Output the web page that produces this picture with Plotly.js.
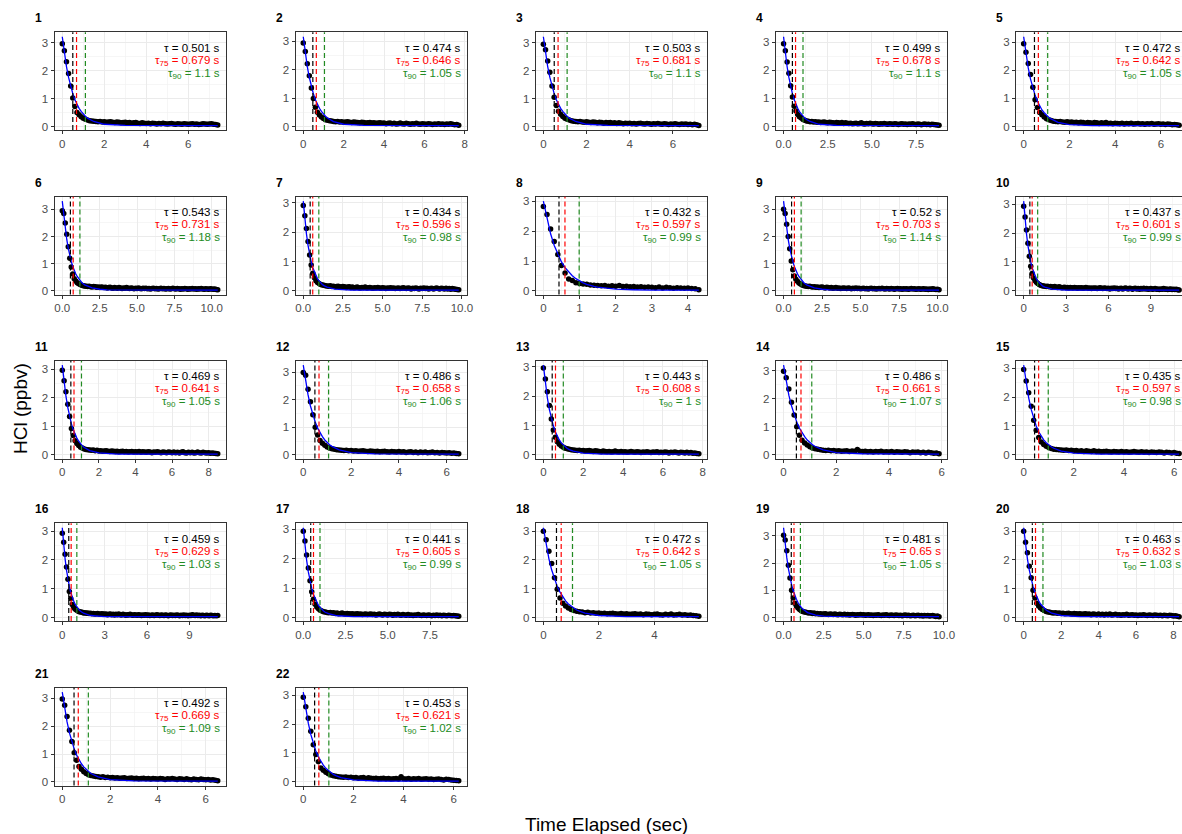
<!DOCTYPE html>
<html><head><meta charset="utf-8">
<script src="https://cdn.plot.ly/plotly-3.0.1.min.js"></script>
<style>html,body{margin:0;padding:0;overflow:hidden;background:#fff}</style>
</head><body><div id="chart" style="width:1190px;height:834px"></div>
<script>
// ---------------- DATA ----------------
const sampleStep = 0.1; // seconds between samples
const panelIds = [1,2,3,4,5,6,7,8,9,10,11,12,13,14,15,16,17,18,19,20,21,22];

const hcl1 = [2.97,2.72,2.32,1.90,1.45,1.02,0.72,0.50,0.42,0.35, 0.30,0.26,0.23,0.21,0.20,0.19,0.18,0.17,0.18,0.16, 0.17,0.15,0.16,0.17,0.15,0.14,0.16,0.15,0.13,0.14, 0.15,0.13,0.14,0.12,0.13,0.14,0.12,0.11,0.13,0.12, 0.11,0.12,0.10,0.12,0.11,0.09,0.11,0.10,0.12,0.10, 0.09,0.10,0.11,0.09,0.08,0.10,0.09,0.08,0.10,0.09, 0.08,0.09,0.10,0.08,0.09,0.07,0.08,0.10,0.09,0.08, 0.09,0.10,0.08,0.07,0.05];
const hcl2 = [2.93,2.63,2.20,1.78,1.35,0.98,0.68,0.50,0.40,0.33, 0.28,0.24,0.22,0.20,0.19,0.18,0.17,0.18,0.16,0.17, 0.15,0.16,0.17,0.15,0.14,0.16,0.15,0.14,0.13,0.15, 0.14,0.12,0.13,0.14,0.12,0.13,0.11,0.12,0.13,0.11, 0.12,0.10,0.11,0.12,0.10,0.11,0.09,0.10,0.12,0.10, 0.09,0.11,0.10,0.08,0.10,0.09,0.11,0.09,0.08,0.10, 0.09,0.08,0.10,0.09,0.07,0.09,0.08,0.10,0.08,0.09, 0.07,0.09,0.08,0.10,0.08,0.06,0.07,0.04];
const hcl3 = [2.95,2.75,2.35,1.95,1.45,1.05,0.75,0.55,0.44,0.36, 0.30,0.26,0.23,0.21,0.19,0.18,0.17,0.18,0.16,0.15, 0.17,0.15,0.14,0.16,0.15,0.13,0.15,0.14,0.12,0.14, 0.13,0.14,0.12,0.13,0.11,0.13,0.12,0.10,0.12,0.11, 0.12,0.10,0.11,0.09,0.11,0.12,0.10,0.09,0.11,0.10, 0.08,0.10,0.09,0.11,0.09,0.08,0.10,0.09,0.07,0.09, 0.08,0.10,0.08,0.07,0.09,0.08,0.09,0.07,0.08,0.06, 0.08,0.06,0.04];
const hcl4 = [2.95,2.70,2.30,1.90,1.45,1.05,0.72,0.55,0.43,0.35, 0.30,0.25,0.22,0.20,0.19,0.17,0.18,0.16,0.17,0.15, 0.16,0.14,0.15,0.16,0.14,0.13,0.15,0.14,0.13,0.12, 0.14,0.13,0.12,0.14,0.11,0.13,0.12,0.11,0.12,0.10, 0.11,0.12,0.10,0.11,0.13,0.10,0.09,0.11,0.10,0.12, 0.10,0.09,0.11,0.10,0.08,0.10,0.09,0.11,0.09,0.08, 0.10,0.09,0.08,0.10,0.09,0.07,0.09,0.10,0.08,0.09, 0.07,0.09,0.08,0.10,0.08,0.07,0.09,0.08,0.06,0.08, 0.09,0.07,0.08,0.06,0.08,0.07,0.06,0.05,0.04];
const hcl5 = [2.95,2.65,2.25,1.85,1.40,0.95,0.68,0.50,0.42,0.34, 0.28,0.24,0.21,0.19,0.18,0.17,0.18,0.16,0.15,0.17, 0.15,0.16,0.14,0.15,0.13,0.15,0.14,0.12,0.14,0.13, 0.12,0.14,0.13,0.11,0.13,0.12,0.14,0.11,0.12,0.10, 0.12,0.11,0.10,0.12,0.09,0.11,0.10,0.12,0.09,0.10, 0.11,0.09,0.10,0.08,0.10,0.09,0.11,0.08,0.09,0.10, 0.08,0.09,0.07,0.09,0.08,0.06,0.07,0.06,0.04];
const hcl6 = [2.95,2.85,2.50,2.08,1.62,1.20,0.88,0.62,0.45,0.36, 0.30,0.26,0.23,0.21,0.19,0.18,0.17,0.16,0.17,0.15, 0.14,0.16,0.15,0.13,0.14,0.12,0.14,0.13,0.12,0.13, 0.11,0.12,0.13,0.11,0.10,0.12,0.11,0.10,0.12,0.11, 0.09,0.11,0.10,0.12,0.10,0.09,0.11,0.10,0.08,0.10, 0.09,0.11,0.09,0.08,0.10,0.09,0.10,0.08,0.09,0.07, 0.09,0.10,0.08,0.09,0.07,0.08,0.10,0.08,0.09,0.07, 0.08,0.09,0.07,0.08,0.10,0.08,0.07,0.09,0.08,0.06, 0.08,0.07,0.09,0.08,0.06,0.08,0.07,0.09,0.07,0.08, 0.06,0.08,0.07,0.09,0.07,0.06,0.08,0.07,0.06,0.08, 0.07,0.06,0.07,0.05,0.04];
const hcl7 = [2.90,2.55,2.12,1.68,1.22,0.88,0.60,0.45,0.35,0.29, 0.25,0.22,0.20,0.19,0.18,0.17,0.16,0.18,0.15,0.16, 0.14,0.15,0.16,0.14,0.13,0.15,0.14,0.12,0.13,0.14, 0.12,0.13,0.11,0.12,0.13,0.11,0.10,0.12,0.11,0.13, 0.10,0.11,0.12,0.10,0.09,0.11,0.10,0.12,0.10,0.09, 0.11,0.10,0.08,0.10,0.09,0.11,0.09,0.10,0.08,0.09, 0.10,0.08,0.09,0.11,0.09,0.08,0.10,0.09,0.07,0.09, 0.08,0.10,0.08,0.07,0.09,0.08,0.10,0.08,0.09,0.07, 0.08,0.09,0.07,0.08,0.10,0.08,0.07,0.09,0.08,0.07, 0.09,0.07,0.08,0.06,0.08,0.07,0.06,0.05,0.04];
const hcl8 = [2.82,2.55,2.07,1.65,1.22,0.85,0.60,0.40,0.35,0.27, 0.25,0.23,0.22,0.20,0.19,0.18,0.17,0.18,0.16,0.17, 0.16,0.18,0.15,0.16,0.14,0.15,0.13,0.14,0.12,0.13, 0.12,0.11,0.13,0.10,0.12,0.11,0.09,0.11,0.10,0.09, 0.10,0.08,0.07,0.04];
const hcl9 = [3.00,2.85,2.45,2.00,1.55,1.10,0.78,0.55,0.43,0.35, 0.29,0.25,0.22,0.20,0.18,0.17,0.16,0.17,0.15,0.14, 0.15,0.13,0.14,0.12,0.13,0.14,0.12,0.11,0.13,0.12, 0.11,0.12,0.10,0.11,0.12,0.10,0.11,0.09,0.10,0.11, 0.10,0.09,0.11,0.10,0.08,0.10,0.09,0.11,0.09,0.10, 0.08,0.09,0.10,0.08,0.09,0.07,0.09,0.10,0.08,0.09, 0.07,0.08,0.09,0.08,0.10,0.08,0.07,0.09,0.08,0.07, 0.09,0.08,0.06,0.08,0.09,0.07,0.08,0.06,0.08,0.07, 0.08,0.06,0.07,0.09,0.07,0.08,0.06,0.07,0.08,0.06, 0.07,0.08,0.06,0.07,0.05,0.07,0.06,0.08,0.06,0.05, 0.06,0.04];
const hcl10 = [2.92,2.55,2.10,1.65,1.20,0.85,0.60,0.45,0.36,0.30, 0.26,0.22,0.20,0.18,0.17,0.16,0.15,0.16,0.14,0.15, 0.13,0.14,0.15,0.13,0.12,0.14,0.13,0.11,0.12,0.13, 0.11,0.12,0.10,0.12,0.11,0.10,0.12,0.11,0.09,0.11, 0.10,0.11,0.09,0.10,0.12,0.10,0.09,0.10,0.08,0.10, 0.09,0.10,0.08,0.09,0.11,0.09,0.08,0.10,0.09,0.08, 0.09,0.07,0.09,0.08,0.10,0.08,0.09,0.07,0.08,0.09, 0.07,0.08,0.10,0.08,0.07,0.09,0.08,0.06,0.08,0.09, 0.07,0.08,0.06,0.08,0.07,0.09,0.07,0.08,0.06,0.07, 0.08,0.06,0.07,0.08,0.06,0.07,0.05,0.07,0.06,0.08, 0.06,0.07,0.05,0.06,0.07,0.05,0.06,0.05,0.06,0.04, 0.03];
const hcl11 = [2.97,2.60,2.22,1.78,1.35,0.93,0.68,0.50,0.40,0.33, 0.27,0.24,0.21,0.19,0.18,0.17,0.16,0.17,0.15,0.16, 0.14,0.15,0.13,0.14,0.15,0.13,0.12,0.14,0.13,0.12, 0.13,0.11,0.12,0.13,0.11,0.12,0.10,0.11,0.12,0.10, 0.11,0.10,0.12,0.09,0.11,0.10,0.09,0.11,0.10,0.08, 0.10,0.09,0.11,0.09,0.08,0.10,0.09,0.08,0.10,0.09, 0.08,0.10,0.08,0.09,0.07,0.09,0.11,0.08,0.07,0.09, 0.08,0.09,0.07,0.08,0.10,0.08,0.07,0.09,0.08,0.07, 0.08,0.06,0.07,0.06,0.05,0.04];
const hcl12 = [2.98,2.88,2.38,1.92,1.45,1.00,0.72,0.52,0.42,0.35, 0.29,0.25,0.22,0.20,0.19,0.18,0.17,0.16,0.17,0.15, 0.16,0.14,0.15,0.13,0.14,0.15,0.13,0.12,0.14,0.13, 0.12,0.13,0.11,0.12,0.13,0.11,0.10,0.12,0.11,0.10, 0.12,0.10,0.11,0.09,0.10,0.11,0.09,0.10,0.08,0.10, 0.09,0.10,0.08,0.09,0.10,0.08,0.09,0.07,0.09,0.08, 0.07,0.08,0.06,0.07,0.05,0.04];
const hcl13 = [2.95,2.58,2.15,1.68,1.22,0.85,0.60,0.45,0.36,0.30, 0.26,0.23,0.21,0.19,0.18,0.17,0.16,0.15,0.16,0.14, 0.15,0.13,0.14,0.15,0.13,0.12,0.14,0.13,0.12,0.11, 0.13,0.12,0.11,0.12,0.10,0.11,0.13,0.11,0.10,0.12, 0.10,0.11,0.09,0.10,0.12,0.10,0.09,0.11,0.10,0.08, 0.10,0.09,0.11,0.09,0.08,0.10,0.09,0.11,0.08,0.09, 0.08,0.10,0.09,0.07,0.09,0.08,0.10,0.08,0.07,0.09, 0.08,0.07,0.09,0.07,0.08,0.06,0.07,0.05,0.04];
const hcl14 = [2.98,2.75,2.35,1.88,1.42,1.00,0.70,0.52,0.42,0.35, 0.29,0.25,0.22,0.20,0.18,0.17,0.16,0.17,0.15,0.16, 0.14,0.15,0.13,0.14,0.15,0.12,0.14,0.13,0.19,0.13, 0.12,0.13,0.11,0.12,0.10,0.12,0.11,0.13,0.10,0.11, 0.10,0.12,0.09,0.11,0.10,0.09,0.11,0.10,0.08,0.10, 0.09,0.10,0.08,0.09,0.07,0.09,0.08,0.06,0.07,0.04];
const hcl15 = [2.95,2.55,2.15,1.68,1.20,0.85,0.60,0.45,0.36,0.30, 0.26,0.22,0.20,0.19,0.18,0.17,0.16,0.17,0.15,0.16, 0.14,0.15,0.13,0.14,0.12,0.14,0.13,0.12,0.14,0.12, 0.13,0.11,0.12,0.13,0.11,0.10,0.12,0.11,0.10,0.12, 0.10,0.11,0.09,0.10,0.12,0.10,0.09,0.11,0.09,0.10, 0.08,0.10,0.09,0.08,0.10,0.09,0.07,0.09,0.08,0.07, 0.08,0.06,0.05];
const hcl16 = [2.93,2.62,2.20,1.76,1.33,0.90,0.66,0.45,0.36,0.30, 0.26,0.23,0.20,0.19,0.18,0.16,0.17,0.15,0.16,0.14, 0.15,0.13,0.14,0.12,0.13,0.14,0.12,0.11,0.13,0.12, 0.11,0.12,0.10,0.11,0.12,0.10,0.11,0.09,0.11,0.10, 0.12,0.10,0.09,0.11,0.10,0.08,0.10,0.09,0.11,0.09, 0.08,0.10,0.09,0.08,0.10,0.09,0.07,0.09,0.08,0.10, 0.08,0.09,0.07,0.08,0.09,0.07,0.08,0.10,0.08,0.07, 0.09,0.08,0.07,0.09,0.08,0.06,0.08,0.09,0.07,0.08, 0.07,0.09,0.08,0.06,0.08,0.07,0.09,0.07,0.08,0.06, 0.08,0.07,0.10,0.08,0.07,0.09,0.07,0.08,0.06,0.08, 0.07,0.06,0.08,0.07,0.06,0.08,0.07,0.06,0.07,0.06, 0.07];
const hcl17 = [2.93,2.60,2.12,1.68,1.25,0.88,0.62,0.45,0.36,0.30, 0.25,0.22,0.20,0.19,0.17,0.16,0.17,0.15,0.16,0.14, 0.15,0.13,0.14,0.15,0.13,0.12,0.14,0.13,0.12,0.13, 0.11,0.12,0.13,0.11,0.12,0.10,0.11,0.12,0.10,0.11, 0.12,0.10,0.11,0.09,0.10,0.12,0.10,0.09,0.11,0.10, 0.09,0.11,0.10,0.08,0.10,0.09,0.11,0.09,0.08,0.10, 0.09,0.08,0.10,0.08,0.09,0.07,0.09,0.08,0.10,0.08, 0.07,0.09,0.08,0.07,0.09,0.08,0.06,0.08,0.07,0.09, 0.07,0.08,0.06,0.08,0.07,0.06,0.08,0.07,0.06,0.07, 0.06,0.05,0.04];
const hcl18 = [3.00,2.70,2.30,1.88,1.38,0.98,0.68,0.50,0.40,0.33, 0.28,0.24,0.22,0.20,0.19,0.17,0.18,0.16,0.17,0.15, 0.16,0.14,0.15,0.13,0.14,0.15,0.13,0.12,0.14,0.12, 0.13,0.11,0.12,0.13,0.11,0.12,0.10,0.12,0.11,0.10, 0.11,0.12,0.10,0.09,0.11,0.10,0.12,0.09,0.10,0.11, 0.09,0.10,0.08,0.09,0.07,0.06,0.04];
const hcl19 = [3.02,2.85,2.45,1.92,1.45,1.00,0.72,0.52,0.42,0.35, 0.29,0.25,0.22,0.20,0.19,0.17,0.16,0.17,0.15,0.16, 0.14,0.15,0.13,0.14,0.12,0.13,0.14,0.12,0.11,0.13, 0.12,0.11,0.13,0.11,0.10,0.12,0.11,0.10,0.12,0.10, 0.11,0.09,0.10,0.11,0.10,0.08,0.10,0.09,0.11,0.09, 0.10,0.08,0.09,0.10,0.08,0.09,0.07,0.09,0.08,0.10, 0.08,0.07,0.09,0.08,0.10,0.08,0.07,0.09,0.08,0.07, 0.09,0.08,0.07,0.08,0.06,0.08,0.09,0.07,0.08,0.06, 0.07,0.08,0.06,0.07,0.08,0.06,0.07,0.05,0.07,0.06, 0.07,0.05,0.06,0.07,0.05,0.04,0.05,0.03];
const hcl20 = [3.00,2.62,2.25,1.78,1.38,0.95,0.68,0.50,0.40,0.33, 0.28,0.24,0.21,0.19,0.18,0.17,0.16,0.17,0.15,0.16, 0.14,0.15,0.13,0.14,0.15,0.13,0.12,0.14,0.13,0.12, 0.13,0.11,0.12,0.13,0.11,0.12,0.10,0.12,0.11,0.10, 0.12,0.10,0.11,0.09,0.11,0.10,0.12,0.09,0.10,0.11, 0.09,0.10,0.08,0.10,0.09,0.11,0.08,0.09,0.10,0.08, 0.09,0.07,0.09,0.08,0.10,0.08,0.07,0.09,0.08,0.07, 0.09,0.08,0.07,0.08,0.06,0.08,0.07,0.06,0.08,0.07, 0.05,0.06,0.04,0.03];
const hcl21 = [2.97,2.75,2.35,1.85,1.45,1.05,0.78,0.55,0.45,0.36, 0.30,0.26,0.23,0.21,0.19,0.18,0.17,0.18,0.16,0.17, 0.15,0.16,0.14,0.15,0.13,0.14,0.15,0.12,0.13,0.14, 0.12,0.13,0.11,0.12,0.13,0.11,0.12,0.10,0.12,0.11, 0.10,0.12,0.11,0.09,0.11,0.10,0.12,0.10,0.09,0.11, 0.10,0.09,0.11,0.09,0.08,0.10,0.09,0.08,0.10,0.09, 0.08,0.09,0.07,0.08,0.06,0.04];
const hcl22 = [2.92,2.60,2.20,1.75,1.28,0.95,0.70,0.48,0.40,0.33, 0.28,0.24,0.21,0.20,0.18,0.17,0.16,0.17,0.15,0.16, 0.14,0.15,0.13,0.14,0.15,0.12,0.14,0.13,0.12,0.13, 0.11,0.12,0.13,0.11,0.12,0.10,0.11,0.12,0.10,0.18, 0.11,0.10,0.12,0.09,0.11,0.10,0.12,0.09,0.10,0.11, 0.09,0.10,0.08,0.09,0.10,0.08,0.07,0.09,0.08,0.07, 0.06,0.05,0.04];

// exponential fit curves, read at these times (plus the panel's last sample time)
const fitTimes = [0,0.1,0.2,0.3,0.4,0.5,0.6,0.7,0.8,0.9,1.0,1.1,1.2,1.3,1.4,1.5,2.0,2.5,3.0];
const fit1  = [3.22,2.63,2.15,1.76,1.44,1.18,0.96,0.79,0.65,0.54,0.44,0.37,0.30,0.25,0.21,0.18,0.08,0.05,0.04,0.03];
const fit2  = [3.15,2.57,2.10,1.72,1.41,1.15,0.94,0.78,0.64,0.53,0.43,0.36,0.30,0.25,0.21,0.17,0.08,0.05,0.04,0.03];
const fit3  = [3.22,2.63,2.15,1.76,1.44,1.18,0.96,0.79,0.65,0.54,0.44,0.37,0.30,0.25,0.21,0.18,0.08,0.05,0.04,0.03];
const fit4  = [3.20,2.61,2.13,1.75,1.43,1.17,0.96,0.79,0.65,0.53,0.44,0.36,0.30,0.25,0.21,0.18,0.08,0.05,0.04,0.03];
const fit5  = [3.20,2.59,2.09,1.69,1.37,1.11,0.90,0.73,0.59,0.49,0.40,0.32,0.27,0.22,0.19,0.15,0.07,0.04,0.03,0.03];
const fit6  = [3.30,2.74,2.27,1.89,1.57,1.30,1.08,0.90,0.75,0.63,0.53,0.44,0.37,0.31,0.26,0.22,0.11,0.06,0.04,0.03];
const fit7  = [3.05,2.43,1.94,1.55,1.23,0.99,0.79,0.64,0.51,0.41,0.34,0.27,0.22,0.18,0.15,0.13,0.06,0.04,0.03,0.03];
const fit8  = [3.00,2.39,1.91,1.52,1.22,0.97,0.78,0.63,0.51,0.41,0.33,0.27,0.22,0.18,0.15,0.13,0.06,0.04,0.03,0.03];
const fit9  = [3.30,2.74,2.27,1.89,1.57,1.30,1.08,0.90,0.75,0.63,0.53,0.44,0.37,0.31,0.26,0.22,0.11,0.06,0.04,0.03];
const fit10 = [3.10,2.47,1.97,1.57,1.25,1.00,0.80,0.65,0.52,0.42,0.34,0.28,0.23,0.19,0.15,0.13,0.06,0.04,0.03,0.03];
const fit11 = [3.15,2.54,2.06,1.67,1.35,1.09,0.88,0.72,0.59,0.48,0.39,0.32,0.26,0.22,0.18,0.15,0.07,0.04,0.03,0.03];
const fit12 = [3.25,2.65,2.17,1.77,1.45,1.19,0.97,0.80,0.66,0.54,0.45,0.37,0.31,0.26,0.21,0.18,0.08,0.05,0.04,0.03];
const fit13 = [3.05,2.43,1.94,1.55,1.23,0.99,0.79,0.64,0.51,0.41,0.34,0.27,0.22,0.18,0.15,0.13,0.06,0.04,0.03,0.03];
const fit14 = [3.20,2.61,2.13,1.75,1.43,1.17,0.96,0.79,0.65,0.53,0.44,0.36,0.30,0.25,0.21,0.18,0.08,0.05,0.04,0.03];
const fit15 = [3.10,2.47,1.97,1.57,1.25,1.00,0.80,0.65,0.52,0.42,0.34,0.28,0.23,0.19,0.15,0.13,0.06,0.04,0.03,0.03];
const fit16 = [3.12,2.52,2.04,1.65,1.33,1.08,0.88,0.71,0.58,0.47,0.39,0.32,0.26,0.22,0.18,0.15,0.07,0.04,0.03,0.03];
const fit17 = [3.05,2.43,1.94,1.55,1.23,0.99,0.79,0.64,0.51,0.41,0.34,0.27,0.22,0.18,0.15,0.13,0.06,0.04,0.03,0.03];
const fit18 = [3.12,2.52,2.04,1.65,1.33,1.08,0.88,0.71,0.58,0.47,0.39,0.32,0.26,0.22,0.18,0.15,0.07,0.04,0.03,0.03];
const fit19 = [3.30,2.70,2.20,1.80,1.47,1.21,0.99,0.81,0.67,0.55,0.45,0.37,0.31,0.26,0.22,0.18,0.09,0.05,0.04,0.03];
const fit20 = [3.12,2.52,2.04,1.65,1.33,1.08,0.88,0.71,0.58,0.47,0.39,0.32,0.26,0.22,0.18,0.15,0.07,0.04,0.03,0.03];
const fit21 = [3.22,2.63,2.15,1.76,1.44,1.18,0.96,0.79,0.65,0.54,0.44,0.37,0.30,0.25,0.21,0.18,0.08,0.05,0.04,0.03];
const fit22 = [3.10,2.50,2.03,1.64,1.33,1.07,0.87,0.71,0.58,0.47,0.39,0.32,0.26,0.22,0.18,0.15,0.07,0.04,0.03,0.03];

const tau   = [0.501,0.474,0.503,0.499,0.472,0.543,0.434,0.432,0.52,0.437,0.469,0.486,0.443,0.486,0.435,0.459,0.441,0.472,0.481,0.463,0.492,0.453];
const tau75 = [0.679,0.646,0.681,0.678,0.642,0.731,0.596,0.597,0.703,0.601,0.641,0.658,0.608,0.661,0.597,0.629,0.605,0.642,0.65,0.632,0.669,0.621];
const tau90 = [1.1,1.05,1.1,1.1,1.05,1.18,0.98,0.99,1.14,0.99,1.05,1.06,1,1.07,0.98,1.03,0.99,1.05,1.05,1.03,1.09,1.02];

const xTickStep = [2,2,2,2.5,2,2.5,2.5,1,2.5,3,2,2,2,2,2,3,2.5,2,2.5,2,2,2];

const hclSeries = [hcl1,hcl2,hcl3,hcl4,hcl5,hcl6,hcl7,hcl8,hcl9,hcl10,hcl11,hcl12,hcl13,hcl14,hcl15,hcl16,hcl17,hcl18,hcl19,hcl20,hcl21,hcl22];
const fitSeries = [fit1,fit2,fit3,fit4,fit5,fit6,fit7,fit8,fit9,fit10,fit11,fit12,fit13,fit14,fit15,fit16,fit17,fit18,fit19,fit20,fit21,fit22];

// ---------------- LAYOUT ----------------
const W = 1190, H = 834;
const colLeft = [54.5, 295.5, 535.6, 775.8, 1015.9];
const colW = 171;
const rowTop = [32.3, 196.7, 360.7, 523.3, 687.7];
const rowH = 97.8;
const FONT = 'Liberation Sans, Arial, Helvetica, sans-serif';
const GREEN = '#228B22';

const traces = [];
const shapes = [];
const annotations = [];
const layout = {
  width: W, height: H,
  margin: {l: 0, r: 0, t: 0, b: 0},
  paper_bgcolor: '#ffffff', plot_bgcolor: '#ffffff',
  showlegend: false,
  font: {family: FONT, size: 11, color: '#4D4D4D'},
  shapes: shapes, annotations: annotations
};

panelIds.forEach((pid, i) => {
  const n = i + 1;
  const xs = n === 1 ? 'x' : 'x' + n;
  const ys = n === 1 ? 'y' : 'y' + n;
  const col = i % 5, row = Math.floor(i / 5);
  const yv = hclSeries[i];
  const tv = yv.map((_, k) => +(k * sampleStep).toFixed(2));
  const tLast = tv[tv.length - 1];
  const fy = fitSeries[i];
  const fx = fitTimes.concat([tLast]);

  traces.push({type: 'scatter', mode: 'markers', x: tv, y: yv, xaxis: xs, yaxis: ys,
    marker: {color: '#000000', size: 5.5}, hoverinfo: 'x+y'});
  traces.push({type: 'scatter', mode: 'lines', x: fx, y: fy, xaxis: xs, yaxis: ys,
    line: {color: '#0000FF', width: 1.3}, hoverinfo: 'skip'});

  const lo = Math.min(Math.min(...yv), Math.min(...fy));
  const hi = Math.max(Math.max(...yv), Math.max(...fy));
  const ypad = 0.05 * (hi - lo);
  const step = xTickStep[i];

  const l = colLeft[col], t = rowTop[row];
  const common = {
    showgrid: true, gridcolor: '#EBEBEB', gridwidth: 1,
    zeroline: false, showline: true, mirror: true, linecolor: '#333333', linewidth: 1,
    ticks: 'outside', ticklen: 3, tickwidth: 1, tickcolor: '#333333',
    tickfont: {family: FONT, size: 11.5, color: '#4D4D4D'}, fixedrange: true
  };
  layout[n === 1 ? 'xaxis' : 'xaxis' + n] = Object.assign({}, common, {
    domain: [l / W, (l + colW) / W], anchor: ys,
    range: [-0.05 * tLast, 1.05 * tLast],
    tick0: 0, dtick: step, tickformat: step === 2.5 ? '.1f' : '',
    minor: {tick0: 0, dtick: step / 2, showgrid: true, gridcolor: '#F2F2F2', gridwidth: 0.7, ticks: ''}
  });
  layout[n === 1 ? 'yaxis' : 'yaxis' + n] = Object.assign({}, common, {
    domain: [1 - (t + rowH) / H, 1 - t / H], anchor: xs,
    range: [lo - ypad, hi + ypad],
    tick0: 0, dtick: 1,
    minor: {tick0: 0, dtick: 0.5, showgrid: true, gridcolor: '#F2F2F2', gridwidth: 0.7, ticks: ''}
  });

  const vlines = [[tau[i], '#000000'], [tau75[i], '#FF0000'], [tau90[i], GREEN]];
  vlines.forEach(([xv, c]) => {
    shapes.push({type: 'line', xref: xs, yref: ys + ' domain', x0: xv, x1: xv, y0: 0, y1: 1,
      line: {color: c, width: 1.2, dash: '5px,3px'}});
  });

  const labels = [
    ['\u03C4 = ' + tau[i] + ' s', '#000000', -15.5],
    ['\u03C4<sub>75</sub> = ' + tau75[i] + ' s', '#FF0000', -28.5],
    ['\u03C4<sub>90</sub> = ' + tau90[i] + ' s', GREEN, -41.5]
  ];
  labels.forEach(([txt, c, dy]) => {
    annotations.push({xref: xs + ' domain', yref: ys + ' domain', x: 1, y: 1,
      xanchor: 'right', yanchor: 'middle', xshift: -5, yshift: dy, borderpad: 0,
      text: txt, showarrow: false, font: {family: FONT, size: 11.5, color: c}});
  });

  annotations.push({xref: 'paper', yref: 'paper', x: (l - 22) / W, y: 1 - (t - 14) / H,
    xanchor: 'left', yanchor: 'middle', text: '<b>' + pid + '</b>', showarrow: false,
    font: {family: FONT, size: 12, color: '#000000'}});
});

annotations.push({xref: 'paper', yref: 'paper', x: 606 / W, y: 1 - 824 / H, xanchor: 'center', yanchor: 'middle',
  text: 'Time Elapsed (sec)', showarrow: false, font: {family: FONT, size: 19, color: '#000000'}});
annotations.push({xref: 'paper', yref: 'paper', x: 20 / W, y: 1 - 409 / H, xanchor: 'center', yanchor: 'middle',
  text: 'HCl (ppbv)', textangle: -90, showarrow: false, font: {family: FONT, size: 19, color: '#000000'}});

Plotly.newPlot('chart', traces, layout, {displayModeBar: false, staticPlot: true});
</script></body></html>
